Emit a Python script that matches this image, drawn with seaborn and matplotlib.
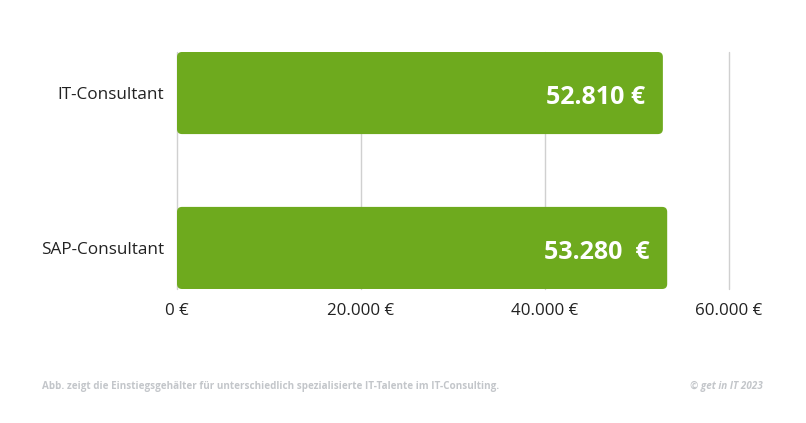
import matplotlib
matplotlib.use("Agg")
import matplotlib.pyplot as plt
from matplotlib.patches import FancyBboxPatch
import seaborn as sns
import pandas as pd

# data
jobs = ["IT-Consultant", "SAP-Consultant"]
salaries = [52810, 53280]
value_labels = ["52.810 €", "53.280  €"]
xticks = [0, 20000, 40000, 60000]
xtick_labels = ["0 €", "20.000 €", "40.000 €", "60.000 €"]

green = "#6eaa1e"
grey_txt = "#c3c6ca"

sns.set_theme(style="white")
plt.rcParams["font.family"] = ["Open Sans", "DejaVu Sans"]

df = pd.DataFrame({"job": jobs, "salary": salaries})

fig = plt.figure(figsize=(8.06, 4.23), dpi=100)
ax = fig.add_axes([0.2196, 0.3168, 0.6849, 0.5603])

sns.barplot(data=df, x="salary", y="job", color=green, width=0.53,
            saturation=1, ax=ax, zorder=2)

# swap bars for rounded ones
for p in list(ax.patches):
    x0, y0 = p.get_x(), p.get_y()
    w, h = p.get_width(), p.get_height()
    rb = FancyBboxPatch((x0, y0), w, h,
                        boxstyle="round,pad=0,rounding_size=550",
                        mutation_aspect=5.9e-5, facecolor=green,
                        edgecolor="none", zorder=2)
    p.remove()
    ax.add_patch(rb)

ax.set_xlim(0, 60000)
ax.set_ylim(1.265, -0.265)
ax.set_xticks(xticks)
ax.set_xticklabels(xtick_labels)
ax.set_xlabel("")
ax.set_ylabel("")
ax.tick_params(axis="x", length=0, pad=10, labelsize=12.2, labelcolor="#222222")
ax.tick_params(axis="y", length=0, pad=9, labelsize=12.3, labelcolor="#222222")

for xv in xticks:
    ax.axvline(xv, color="#d0d0d0", lw=1, zorder=1, clip_on=False)

for s in ax.spines.values():
    s.set_visible(False)

for i, (v, lab) in enumerate(zip(salaries, value_labels)):
    ax.text(v - 1900, i + 0.03, lab, ha="right", va="center", color="white",
            fontsize=18, fontweight="bold", zorder=3)

fig.text(42 / 806, 1 - 386 / 423,
         "Abb. zeigt die Einstiegsgehälter für unterschiedlich spezialisierte IT-Talente im IT-Consulting.",
         ha="left", va="center", fontsize=7.15, fontweight="bold", color=grey_txt)
fig.text(763 / 806, 1 - 386 / 423, "© get in IT 2023", ha="right", va="center",
         fontsize=7.15, fontweight="bold", style="italic", color=grey_txt)

fig.savefig("out.png", dpi=100, facecolor="white")
